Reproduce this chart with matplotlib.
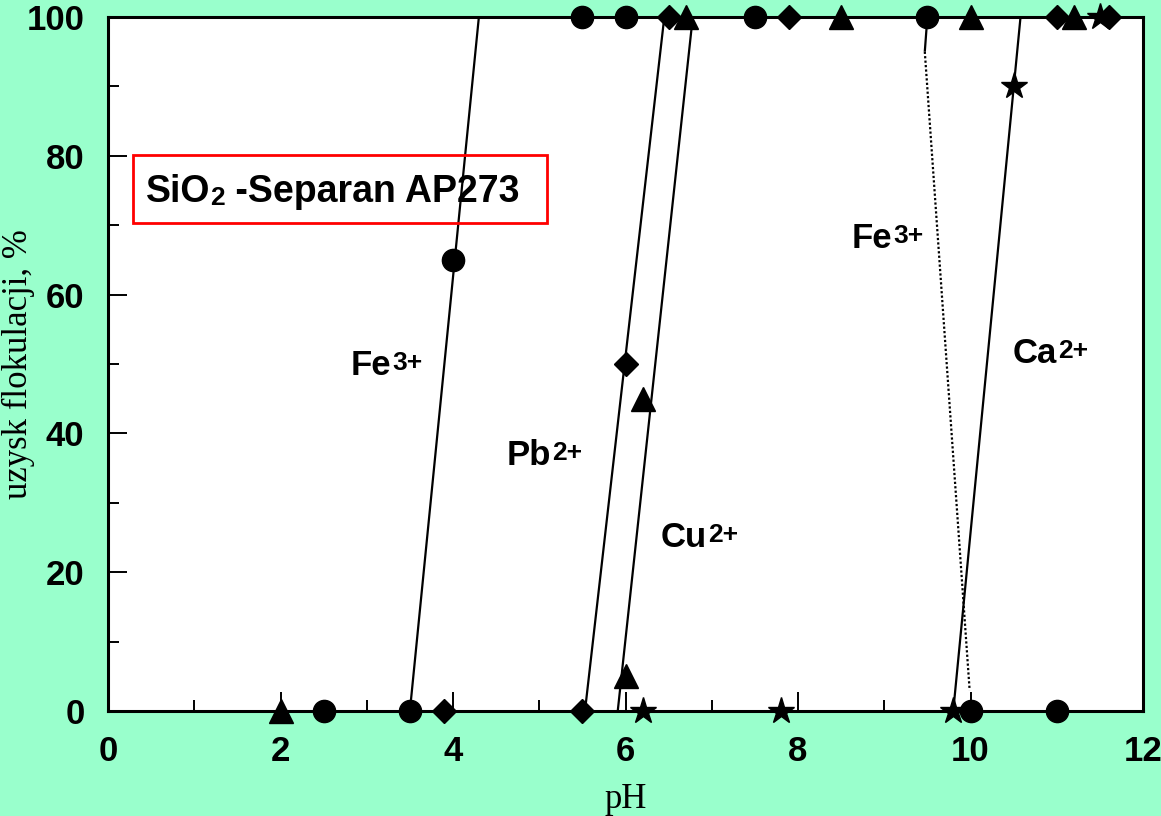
import matplotlib
matplotlib.use("Agg")
import matplotlib.pyplot as plt
from matplotlib.patches import Rectangle
from matplotlib.ticker import MultipleLocator

## Data ##
# Fe3+ (circles)
fe_ph = [2.5, 3.5, 4.0, 5.5, 6.0, 7.5, 9.5, 10.0, 11.0]
fe_rec = [0, 0, 65, 100, 100, 100, 100, 0, 0]
fe_fit_ph = [3.5, 4.3]
fe_fit_rec = [0, 100]
fe_drop_ph = [9.5, 9.47]
fe_drop_rec = [100, 95]
fe_dot_ph = [9.47, 9.99]
fe_dot_rec = [95, 3]

# Pb2+ (diamonds)
pb_ph = [3.9, 5.5, 6.0, 6.5, 7.9, 11.0, 11.6]
pb_rec = [0, 0, 50, 100, 100, 100, 100]
pb_fit_ph = [5.53, 6.45]
pb_fit_rec = [0, 100]

# Cu2+ (triangles)
cu_ph = [2.0, 6.0, 6.2, 6.7, 8.5, 10.0, 11.2]
cu_rec = [0, 5, 45, 100, 100, 100, 100]
cu_fit_ph = [5.91, 6.78]
cu_fit_rec = [0, 100]

# Ca2+ (stars)
ca_ph = [6.2, 7.8, 9.8, 10.5, 11.5]
ca_rec = [0, 0, 0, 90, 100]
ca_fit_ph = [9.8, 10.58]
ca_fit_rec = [0, 100]

x_ticks = [0, 2, 4, 6, 8, 10, 12]
y_ticks = [0, 20, 40, 60, 80, 100]

BG = "#99FFCC"
SANS = "Liberation Sans"
SERIF = "Liberation Serif"


def ion_label(ax, x, y, base, charge):
    """Bold ion name with a small raised charge."""
    t = ax.text(x, y, base, fontsize=25, fontweight="bold", family=SANS,
                ha="left", va="baseline")
    ax.annotate(charge, xy=(1, 1), xycoords=t, xytext=(1, -1.5),
                textcoords="offset points", ha="left", va="top",
                fontsize=19, fontweight="bold", family=SANS)


fig = plt.figure(figsize=(11.61, 8.16), dpi=100, facecolor=BG)
ax = fig.add_axes([108 / 1161, 1 - 711 / 816, 1035 / 1161, 694 / 816])
ax.set_facecolor("white")

line_kw = dict(color="black", lw=1.6, solid_capstyle="butt")
ax.plot(fe_fit_ph, fe_fit_rec, **line_kw)
ax.plot(fe_drop_ph, fe_drop_rec, **line_kw)
ax.plot(fe_dot_ph, fe_dot_rec, color="black", lw=1.6, ls=(0, (1.0, 1.0)))
ax.plot(pb_fit_ph, pb_fit_rec, **line_kw)
ax.plot(cu_fit_ph, cu_fit_rec, **line_kw)
ax.plot(ca_fit_ph, ca_fit_rec, **line_kw)

mk_kw = dict(ls="none", color="black", clip_on=False, zorder=5)
ax.plot(fe_ph, fe_rec, marker="o", ms=16, **mk_kw)
ax.plot(pb_ph, pb_rec, marker="D", ms=12.5, **mk_kw)
ax.plot(cu_ph, cu_rec, marker="^", ms=17, **mk_kw)
ax.plot(ca_ph, ca_rec, marker="*", ms=20, **mk_kw)

ax.set_xlim(0, 12)
ax.set_ylim(0, 100)
ax.set_xticks(x_ticks)
ax.set_yticks(y_ticks)
ax.xaxis.set_minor_locator(MultipleLocator(1))
ax.yaxis.set_minor_locator(MultipleLocator(10))
ax.tick_params(which="both", direction="in", width=1.4, color="black",
               top=False, right=False)
ax.tick_params(which="major", length=14, pad=17)
ax.tick_params(which="minor", length=8)
for lab in ax.get_xticklabels() + ax.get_yticklabels():
    lab.set_family(SANS)
    lab.set_fontweight("bold")
    lab.set_fontsize(25)

for sp in ax.spines.values():
    sp.set_linewidth(2.2)
    sp.set_color("black")

ax.set_xlabel("pH", family=SERIF, fontsize=25, va="center")
ax.xaxis.set_label_coords(0.5, -0.127)
ax.set_ylabel("uzysk flokulacji, %", family=SERIF, fontsize=25, va="center")
ax.yaxis.set_label_coords(-0.087, 0.5)

# ion labels
ion_label(ax, 2.81, 48.4, "Fe", "3+")
ion_label(ax, 4.62, 35.4, "Pb", "2+")
ion_label(ax, 6.41, 23.6, "Cu", "2+")
ion_label(ax, 8.62, 66.7, "Fe", "3+")
ion_label(ax, 10.49, 50.1, "Ca", "2+")

# framed system label
ax.add_patch(Rectangle((0.29, 70.3), 4.80, 9.8, fill=False,
                       edgecolor="#FF0000", lw=2, zorder=4))
t1 = ax.text(0.44, 73.3, "SiO", fontsize=27, fontweight="bold", family=SANS,
             ha="left", va="baseline", zorder=6)
t2 = ax.annotate("2", xy=(1, 0), xycoords=t1, xytext=(0, 0),
                 textcoords="offset points", ha="left", va="bottom",
                 fontsize=19, fontweight="bold", family=SANS)
ax.annotate(" -Separan AP273", xy=(1, 0), xycoords=t2, ha="left",
            va="bottom", fontsize=27, fontweight="bold", family=SANS)

fig.savefig("out.png", dpi=100, facecolor=BG)
